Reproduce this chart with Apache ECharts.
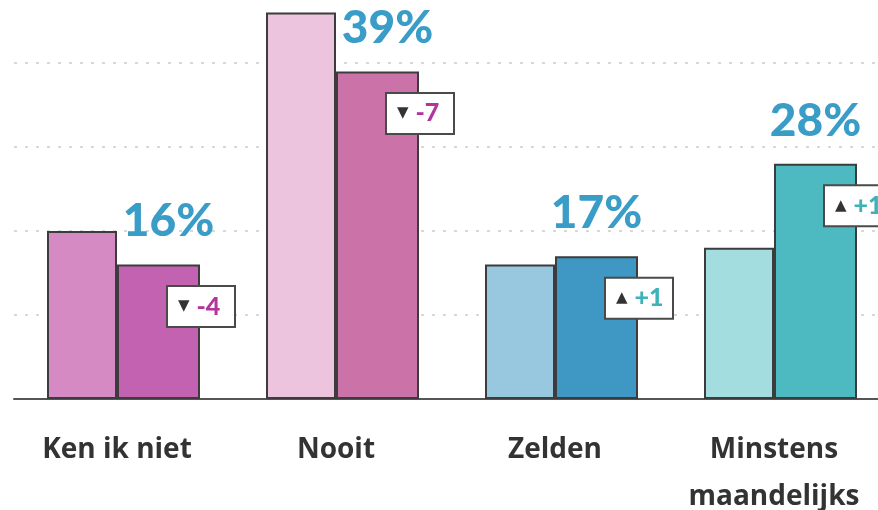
<!DOCTYPE html>
<html>
<head>
<meta charset="utf-8">
<script src="https://cdn.jsdelivr.net/npm/echarts@6/dist/echarts.min.js"></script>
<style>
  html, body { margin: 0; padding: 0; background: #fff; }
  #container { width: 878px; height: 510px; }
</style>
</head>
<body>
<div id="container"></div>
<script>
var categories = ['Ken ik niet', 'Nooit', 'Zelden', 'Minstens\nmaandelijks'];
var previous = [20, 46, 16, 18];
var current = [16, 39, 17, 28];
var change = [-4, -7, 1, 10];

// per category: [previous colour, current colour]
var palette = [
    ['#d58ac4', '#c462b2'],
    ['#ecc4de', '#cb72a8'],
    ['#98c8df', '#3e98c3'],
    ['#a4dde0', '#4dbac1']
];

var dom = document.getElementById('container');
var myChart = echarts.init(dom, null, { renderer: 'canvas' });

var barBorder = { borderColor: '#3c3c3c', borderWidth: 2 };

var prevData = previous.map(function (v, i) {
    return { value: v, itemStyle: Object.assign({ color: palette[i][0] }, barBorder) };
});

var currData = current.map(function (v, i) {
    var up = change[i] > 0;
    var txt = (up ? '{tri|▲}{pos|+' : '{tri|▼}{neg|') + change[i] + '}';
    return {
        value: v,
        itemStyle: Object.assign({ color: palette[i][1] }, barBorder),
        label: { formatter: txt }
    };
});

// percentage labels sit above the current bar, nudged right when the previous bar is taller
var pctPoints = current.map(function (v, i) {
    var shift = previous[i] > v ? 10 : 0;
    return {
        coord: [i, v],
        label: { formatter: v + '%', offset: [shift, -43] }
    };
});

myChart.setOption({
    animation: false,
    grid: { left: 14, width: 876, top: 63, bottom: 111, containLabel: false, outerBoundsMode: 'none' },
    xAxis: {
        type: 'category',
        data: categories,
        axisTick: { show: false },
        axisLine: { lineStyle: { color: '#555', width: 2 } },
        axisLabel: {
            interval: 0,
            color: '#333',
            fontFamily: 'Open Sans',
            fontWeight: 'bold',
            fontSize: 28,
            lineHeight: 47,
            margin: 28,
            padding: [0, 13, 0, 0]
        }
    },
    yAxis: {
        type: 'value',
        min: 0,
        max: 40,
        interval: 10,
        axisLabel: { show: false },
        axisLine: { show: false },
        axisTick: { show: false },
        splitLine: { lineStyle: { color: '#d8d8d8', width: 2, type: [3, 8] } }
    },
    series: [
        {
            type: 'bar',
            barWidth: 70,
            barGap: 0,
            clip: false,
            data: prevData
        },
        {
            type: 'bar',
            barWidth: 83,
            barGap: 0,
            clip: false,
            data: currData,
            label: {
                show: true,
                position: ['100%', 42],
                offset: [-32, 0],
                align: 'left',
                verticalAlign: 'middle',
                backgroundColor: '#fff',
                borderColor: '#4a4a4a',
                borderWidth: 2,
                width: 46,
                padding: [9, 10],
                lineHeight: 21,
                rich: {
                    tri: { fontFamily: 'DejaVu Sans', fontSize: 15, color: '#333', lineHeight: 21, padding: [0, 7, 0, 0] },
                    neg: { fontFamily: 'Lato', fontWeight: 900, fontSize: 25, color: '#b5349c', lineHeight: 21 },
                    pos: { fontFamily: 'Lato', fontWeight: 900, fontSize: 25, color: '#3db3b8', lineHeight: 21 }
                }
            },
            markPoint: {
                symbol: 'rect',
                symbolSize: 1,
                itemStyle: { color: 'rgba(0,0,0,0)' },
                label: {
                    show: true,
                    position: 'inside',
                    align: 'center',
                    verticalAlign: 'middle',
                    fontFamily: 'Lato',
                    fontWeight: 900,
                    fontSize: 46,
                    color: '#3a9dc8'
                },
                data: pctPoints
            }
        }
    ]
});

window.addEventListener('resize', function () {
    myChart.resize();
});
</script>
</body>
</html>
